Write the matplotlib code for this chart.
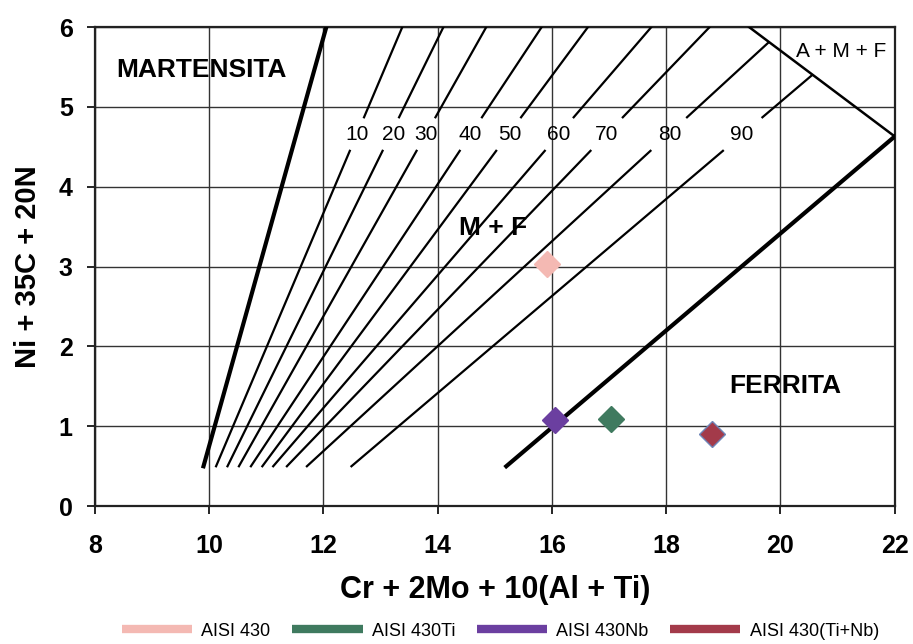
import matplotlib
matplotlib.use('Agg')
import matplotlib.pyplot as plt
from matplotlib.lines import Line2D
import numpy as np

plt.rcParams['font.family'] = ['Liberation Sans', 'DejaVu Sans']

# --- diagram data ---
# iso-ferrite lines: bottom end at y=0.5, top end
iso_labels = ['10', '20', '30', '40', '50', '60', '70', '80', '90']
iso_x_bottom = [10.12, 10.32, 10.52, 10.73, 10.93, 11.12, 11.36, 11.71, 12.49]
iso_x_top = [13.38, 14.10, 14.85, 15.82, 16.63, 17.74, 18.76, 19.78, 20.54]
iso_y_top = [6.0, 6.0, 6.0, 6.0, 6.0, 6.0, 6.0, 5.80, 5.39]
iso_label_x = [12.58, 13.22, 13.80, 14.56, 15.26, 16.11, 16.96, 18.06, 19.32]
iso_y_bottom = 0.5
gap_lo, gap_hi = 4.45, 4.87
label_y = 4.66

# phase boundaries
mart_x = [9.9, 12.05]
mart_y = [0.5, 6.0]
ferr_x = [15.2, 22.0]
ferr_y = [0.5, 4.63]
amf_x = [19.45, 22.0]
amf_y = [6.0, 4.63]

# steels
steels = ['AISI 430', 'AISI 430Ti', 'AISI 430Nb', 'AISI 430(Ti+Nb)']
cr_eq = [15.92, 17.03, 16.06, 18.80]
ni_eq = [3.03, 1.09, 1.08, 0.90]
colors = ['#F4B9B3', '#3F7A5F', '#6B3FA0', '#A33A4A']
edges = ['#F4B9B3', '#3F7A5F', '#6B3FA0', '#6F86B8']

fig = plt.figure(figsize=(9.13, 6.44), dpi=100)
ax = fig.add_axes([0.104, 0.214, 0.876, 0.744])

ax.set_xlim(8, 22)
ax.set_ylim(0, 6)
ax.set_xticks(range(8, 23, 2))
ax.set_yticks(range(0, 7))
ax.grid(True, color='#333333', linewidth=1.0)
ax.set_axisbelow(True)

for s in ax.spines.values():
    s.set_linewidth(1.6)
    s.set_color('#222222')

ax.tick_params(direction='out', length=6, width=1.2, labelsize=18)
ax.tick_params(axis='x', pad=14)
ax.tick_params(axis='y', pad=10)
for lab in ax.get_xticklabels() + ax.get_yticklabels():
    lab.set_fontweight('bold')

# iso lines, broken where the labels sit
for xb, xt, yt, lx, lab in zip(iso_x_bottom, iso_x_top, iso_y_top, iso_label_x, iso_labels):
    xs = np.interp([iso_y_bottom, gap_lo, gap_hi, yt], [iso_y_bottom, yt], [xb, xt])
    ax.plot(xs[:2], [iso_y_bottom, gap_lo], color='black', lw=1.6, zorder=3)
    ax.plot(xs[2:], [gap_hi, yt], color='black', lw=1.6, zorder=3)
    ax.text(lx, label_y, lab, ha='center', va='center', fontsize=15, zorder=4)

ax.plot(mart_x, mart_y, color='black', lw=3, zorder=3)
ax.plot(ferr_x, ferr_y, color='black', lw=3, zorder=3)
ax.plot(amf_x, amf_y, color='black', lw=1.8, zorder=3)

ax.text(9.87, 5.46, 'MARTENSITA', ha='center', va='center', fontsize=19, fontweight='bold')
ax.text(14.97, 3.48, 'M + F', ha='center', va='center', fontsize=19, fontweight='bold')
ax.text(20.08, 1.50, 'FERRITA', ha='center', va='center', fontsize=19, fontweight='bold')
ax.text(21.07, 5.70, 'A + M + F', ha='center', va='center', fontsize=15)

for x, y, c, e in zip(cr_eq, ni_eq, colors, edges):
    ax.plot(x, y, marker='D', markersize=13, color=c, markeredgecolor=e, markeredgewidth=1.0,
            linestyle='none', zorder=5)

ax.set_xlabel('Cr + 2Mo + 10(Al + Ti)', fontsize=22, fontweight='bold', labelpad=12)
ax.set_ylabel('Ni + 35C + 20N', fontsize=21, fontweight='bold', labelpad=12)

handles = [Line2D([0], [0], color=c, lw=6, solid_capstyle='butt') for c in colors]
fig.legend(handles, steels, loc='center', bbox_to_anchor=(0.548, 0.02), ncol=4, frameon=False,
           prop={'size': 13}, handlelength=3.9, columnspacing=1.2, handletextpad=0.5)

plt.savefig('out.png', dpi=100)
plt.close()
